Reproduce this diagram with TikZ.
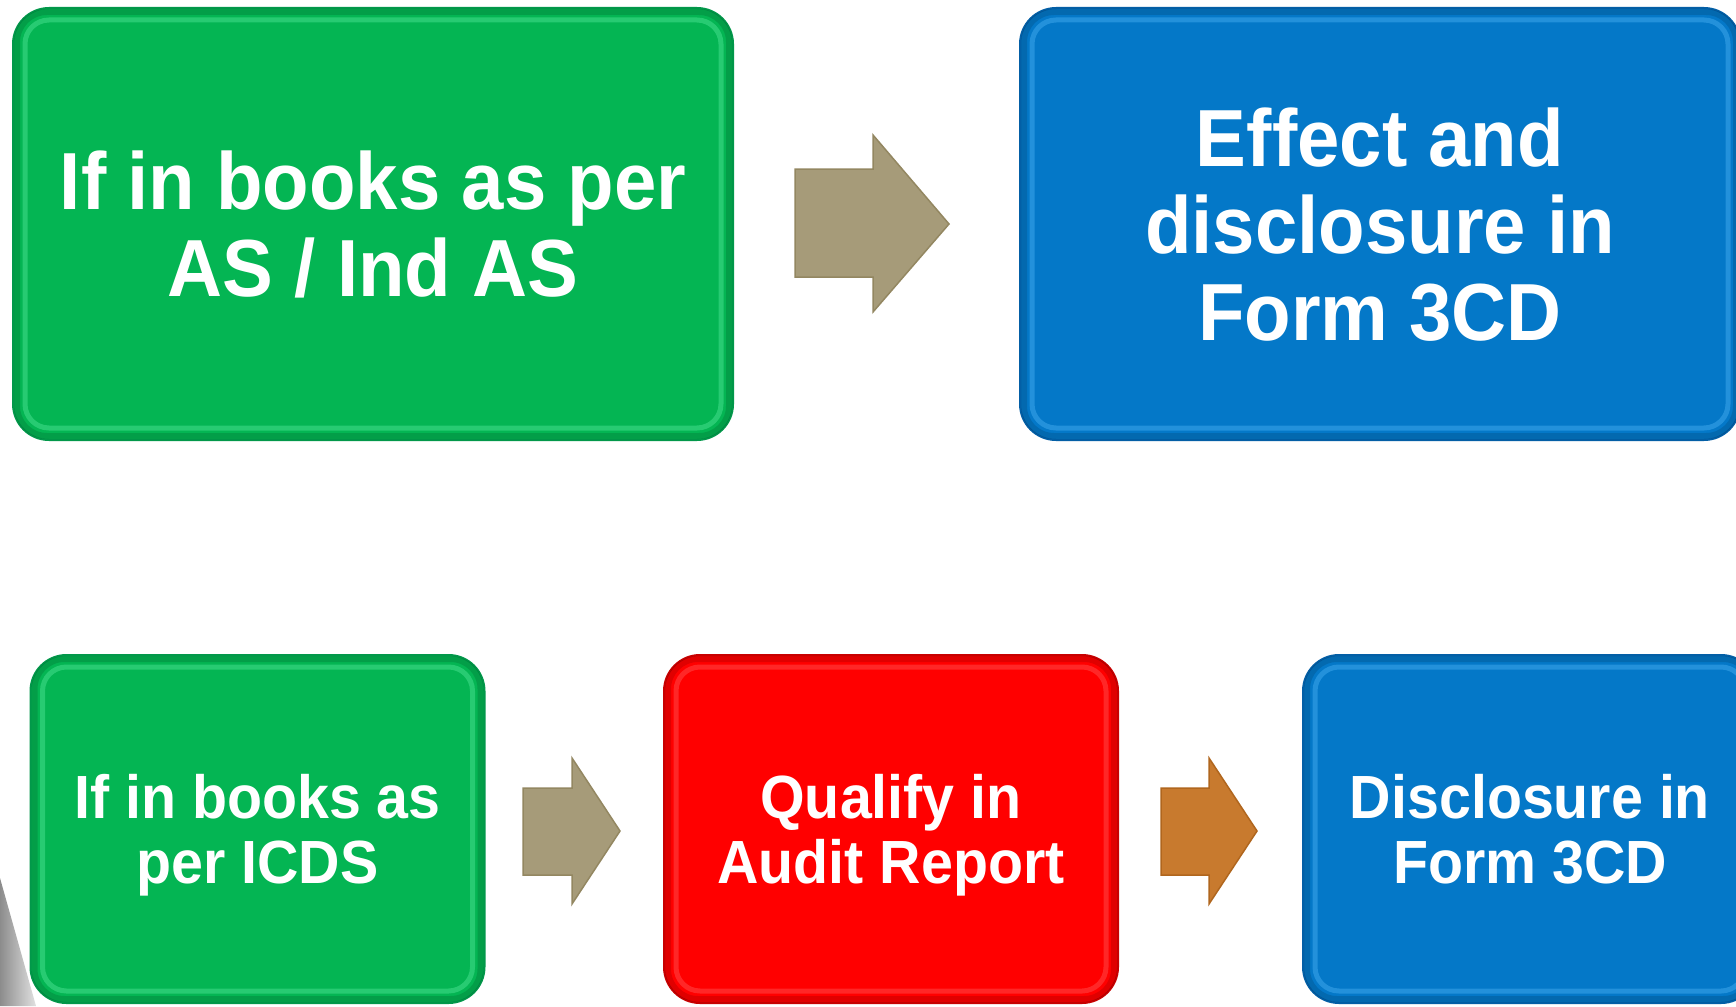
\documentclass[tikz,border=0pt]{standalone}
\usepackage{fontspec}
\newfontfamily\boxfont{Liberation Sans}[FakeStretch=0.94]
\definecolor{gfill}{HTML}{04B553}
\definecolor{gdark}{HTML}{02984A}
\definecolor{glight}{HTML}{6AF5AE}
\definecolor{bfill}{HTML}{0478C8}
\definecolor{bdark}{HTML}{035FA6}
\definecolor{blight}{HTML}{5EC2FF}
\definecolor{rfill}{HTML}{FF0000}
\definecolor{rdark}{HTML}{C80000}
\definecolor{rlight}{HTML}{FF7070}
\definecolor{tan}{HTML}{A69B79}
\definecolor{tandark}{HTML}{938761}
\definecolor{orng}{HTML}{C87A2E}
\definecolor{orngdark}{HTML}{B0661E}
\newcommand{\bigtext}{\boxfont\bfseries\fontsize{81}{87}\selectfont}
\newcommand{\smalltext}{\boxfont\bfseries\fontsize{61}{65}\selectfont}
\newcommand{\lastln}[1]{\raisebox{0pt}[\height][0pt]{#1}}
\tikzset{
  box/.style={rectangle, rounded corners=36pt, line width=2pt, inner sep=0pt, text=white, align=center},
  bigbox/.style={box, minimum width=720pt, minimum height=432pt, font=\bigtext},
  smallbox/.style={box, minimum width=454pt, minimum height=348pt, font=\smalltext},
  hl/.style={rounded corners=24pt, line width=5pt, opacity=0.35},
  shadowring/.style={rounded corners=30pt, line width=6pt, opacity=0.12, draw=black},
  blockarrow/.style={line width=1.5pt, line join=miter}
}
\begin{document}
\begin{tikzpicture}[x=1pt,y=-1pt]
\useasboundingbox (0,0) rectangle (1736,1006);
\clip (0,0) rectangle (1736,1006);
\fill[white] (0,0) rectangle (1736,1006);
% grey shadow piece at lower left
\shade[left color=black!45, right color=black!12] (0,878) -- (36,1006) -- (0,1006) -- cycle;
% boxes
\node[bigbox, fill=gfill, draw=gdark] (b1) at (373,224) {If in books as per\\\lastln{AS / Ind AS}};
\node[bigbox, fill=bfill, draw=bdark] (b2) at (1380,224) {Effect and\\disclosure in\\\lastln{Form 3CD}};
\node[smallbox, fill=gfill, draw=gdark] (b3) at (257.5,829) {If in books as\\\lastln{per ICDS}};
\node[smallbox, fill=rfill, draw=rdark] (b4) at (891,829) {Qualify in\\\lastln{Audit Report}};
\node[smallbox, fill=bfill, draw=bdark] (b5) at (1530,829) {Disclosure in\\\lastln{Form 3CD}};
% bevel: darker rim and soft inner highlight
\foreach \n/\c in {b1/glight, b2/blight, b3/glight, b4/rlight, b5/blight}{
  \draw[shadowring] ([shift={(5,5)}]\n.north west) rectangle ([shift={(-5,-5)}]\n.south east);
  \draw[hl, draw=\c] ([shift={(13,13)}]\n.north west) rectangle ([shift={(-13,-13)}]\n.south east);
}
% block arrows
\filldraw[blockarrow, fill=tan, draw=tandark] (795,169) -- (873,169) -- (873,135) -- (949,224) -- (873,312) -- (873,277) -- (795,277) -- cycle;
\filldraw[blockarrow, fill=tan, draw=tandark] (523,788) -- (572,788) -- (572,758) -- (620,831) -- (572,904) -- (572,875) -- (523,875) -- cycle;
\filldraw[blockarrow, fill=orng, draw=orngdark] (1161,788) -- (1209,788) -- (1209,758) -- (1257,831) -- (1209,904) -- (1209,875) -- (1161,875) -- cycle;
\end{tikzpicture}
\end{document}
